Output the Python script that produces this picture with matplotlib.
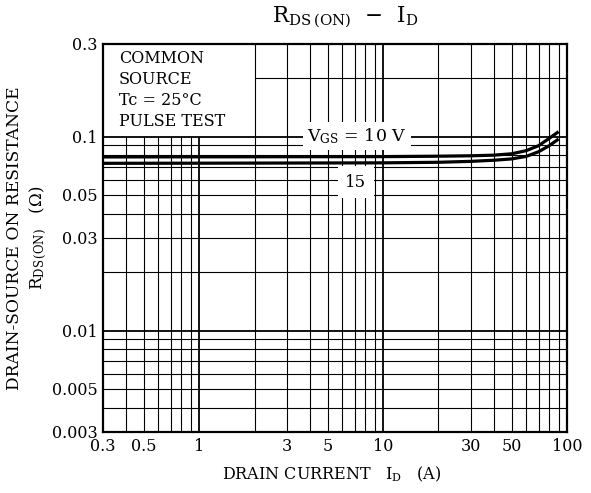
import matplotlib
matplotlib.use("Agg")
import matplotlib.pyplot as plt

# ---- data ----
id_a = [0.3, 1, 10, 20, 30, 40, 50, 60, 70, 80, 90]
rds_vgs10 = [0.0785, 0.0786, 0.0788, 0.0792, 0.0796, 0.0802, 0.0815, 0.0846, 0.0897, 0.0978, 0.106]
rds_vgs15 = [0.0728, 0.0729, 0.0732, 0.0737, 0.0745, 0.0755, 0.0767, 0.0790, 0.0835, 0.0897, 0.0971]

x_ticks = [0.3, 0.5, 1, 3, 5, 10, 30, 50, 100]
x_ticklabels = ["0.3", "0.5", "1", "3", "5", "10", "30", "50", "100"]
y_ticks = [0.003, 0.005, 0.01, 0.03, 0.05, 0.1, 0.3]
y_ticklabels = ["0.003", "0.005", "0.01", "0.03", "0.05", "0.1", "0.3"]

x_grid = [0.4, 0.5, 0.6, 0.7, 0.8, 0.9, 1, 2, 3, 4, 5, 6, 7, 8, 9,
          10, 20, 30, 40, 50, 60, 70, 80, 90]
y_grid = [0.004, 0.005, 0.006, 0.007, 0.008, 0.009, 0.01, 0.02, 0.03,
          0.04, 0.05, 0.06, 0.07, 0.08, 0.09, 0.1, 0.2]
decades_x = [1, 10]
decades_y = [0.01, 0.1]

plt.rcParams['font.family'] = ['DejaVu Serif']
plt.rcParams['mathtext.fontset'] = 'dejavuserif'

fig = plt.figure(figsize=(5.91, 4.93), dpi=100)
ax = fig.add_axes([103/591, 1-432/493, (567-103)/591, (432-44)/493])
ax.set_xscale('log')
ax.set_yscale('log')
ax.set_xlim(0.3, 100)
ax.set_ylim(0.003, 0.3)

# grid (graph paper); upper-left region is left blank for the condition box
for xv in x_grid:
    lw = 1.3 if xv in decades_x else 0.8
    top = 0.1 if xv < 2 else 0.3
    ax.vlines(xv, 0.003, top, colors='black', linewidth=lw, zorder=1)
for yv in y_grid:
    lw = 1.3 if yv in decades_y else 0.8
    left = 2 if yv > 0.1 else 0.3
    ax.hlines(yv, left, 100, colors='black', linewidth=lw, zorder=1)

ax.plot(id_a, rds_vgs10, color='black', linewidth=2.3, zorder=3, solid_capstyle='butt')
ax.plot(id_a, rds_vgs15, color='black', linewidth=2.3, zorder=3, solid_capstyle='butt')

ax.text(7.2, 0.1005, r'V$_{\mathrm{GS}}$ = 10 V', fontsize=12.5, ha='center', va='center',
        zorder=4, bbox=dict(facecolor='white', edgecolor='none', pad=3))
ax.text(7.1, 0.058, '15', fontsize=12, ha='center', va='center', zorder=4,
        bbox=dict(boxstyle='square,pad=0.45', facecolor='white', edgecolor='none'))

ax.text(0.365, 0.28, 'COMMON\nSOURCE\nTc = 25°C\nPULSE TEST', fontsize=11.5,
        ha='left', va='top', linespacing=1.3, zorder=4)

ax.set_xticks(x_ticks)
ax.set_xticklabels(x_ticklabels)
ax.set_yticks(y_ticks)
ax.set_yticklabels(y_ticklabels)
ax.minorticks_off()
ax.tick_params(length=0, labelsize=11.5, pad=4)
for s in ax.spines.values():
    s.set_linewidth(1.6)

fig.text(345/591, 1-17/493, r'R$_{\mathrm{DS\,(ON)}}$  $-$  I$_{\mathrm{D}}$', fontsize=15.5,
         ha='center', va='center')
fig.text(332/591, 1-474/493, r'DRAIN CURRENT   I$_{\mathrm{D}}$   (A)', fontsize=11.5,
         ha='center', va='center')
fig.text(15/591, 1-238/493, 'DRAIN-SOURCE ON RESISTANCE', fontsize=12.3, rotation=90,
         ha='center', va='center')
fig.text(38/591, 1-238/493, r'R$_{\mathrm{DS\,(ON)}}$   ($\Omega$)', fontsize=12, rotation=90,
         ha='center', va='center')

fig.savefig('out.png', dpi=100)
